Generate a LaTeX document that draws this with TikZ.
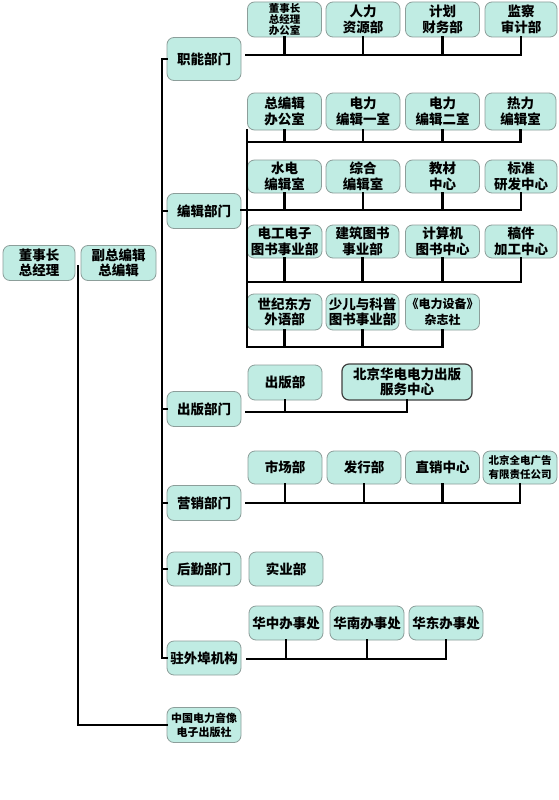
\documentclass[tikz,border=0pt]{standalone}
\usepackage{fontspec}
\newfontfamily\cjk{Noto Sans CJK SC}
\definecolor{boxfill}{RGB}{192,236,227}
\definecolor{boxline}{RGB}{140,158,154}
\begin{document}
\begin{tikzpicture}[x=1pt,y=-1pt,
  box/.style={draw=boxline, fill=boxfill, rounded corners=7pt, line width=0.8pt,
    align=center, inner sep=0pt, minimum width=74pt, minimum height=35pt,
    font=\cjk\bfseries\fontsize{13.5}{15.5}\selectfont},
  small/.style={font=\cjk\bfseries\fontsize{10.5}{11}\selectfont},
  tiny/.style={font=\cjk\bfseries\fontsize{11}{14}\selectfont},
  dark/.style={draw=black!75, line width=1.2pt},
  conn/.style={line width=2.6pt, line cap=rect}]
\useasboundingbox (0,0) rectangle (559,800);
\fill[white] (0,0) rectangle (559,800);
% level 0/1
\node[box, minimum width=72pt] (dsz) at (39,263) {董事长\\总经理};
\node[box, minimum width=75pt] (fzb) at (118.5,263) {副总编辑\\总编辑};
% departments
\node[box, minimum height=43pt] (zn) at (204,59) {职能部门};
\node[box] (bj) at (204,211) {编辑部门};
\node[box] (cb) at (204,409) {出版部门};
\node[box] (yx) at (204,503) {营销部门};
\node[box, minimum height=34pt] (hq) at (204,569) {后勤部门};
\node[box, minimum height=34pt] (zw) at (204,658) {驻外埠机构};
\node[box, tiny] (zg) at (204,725) {中国电力音像\\电子出版社};
% 职能 children
\node[box, small] (zn1) at (284.5,19.5) {董事长\\总经理\\办公室};
\node[box] (zn2) at (363,19.5) {人力\\资源部};
\node[box] (zn3) at (442.5,19.5) {计划\\财务部};
\node[box, minimum width=72pt] (zn4) at (521,19.5) {监察\\审计部};
% 编辑 rows
\node[box, minimum height=37pt] (b11) at (284.5,111.5) {总编辑\\办公室};
\node[box, minimum height=37pt] (b12) at (363,111.5) {电力\\编辑一室};
\node[box, minimum height=37pt] (b13) at (442.5,111.5) {电力\\编辑二室};
\node[box, minimum height=37pt, minimum width=71pt] (b14) at (520.5,111.5) {热力\\编辑室};
\node[box, minimum height=33pt] (b21) at (284.5,176.5) {水电\\编辑室};
\node[box, minimum height=33pt] (b22) at (363,176.5) {综合\\编辑室};
\node[box, minimum height=33pt] (b23) at (442.5,176.5) {教材\\中心};
\node[box, minimum height=33pt, minimum width=72pt] (b24) at (521,176.5) {标准\\研发中心};
\node[box, minimum height=33pt, minimum width=75pt] (b31) at (284.5,241.5) {电工电子\\图书事业部};
\node[box, minimum height=33pt, minimum width=73pt] (b32) at (362.5,241.5) {建筑图书\\事业部};
\node[box, minimum height=33pt] (b33) at (442.5,241.5) {计算机\\图书中心};
\node[box, minimum height=33pt, minimum width=72pt] (b34) at (521,241.5) {稿件\\加工中心};
\node[box, minimum width=75pt, minimum height=36pt] (b41) at (284.5,312) {世纪东方\\外语部};
\node[box, minimum width=73pt, minimum height=36pt] (b42) at (362.5,312) {少儿与科普\\图书事业部};
\node[box, minimum height=36pt, font=\cjk\bfseries\fontsize{12}{15.5}\selectfont] (b43) at (442.5,312) {《电力设备》\\杂志社};
% 出版 children
\node[box] (cb1) at (285,382.5) {出版部};
\node[box, dark, minimum width=130pt, minimum height=36pt] (cb2) at (407,382) {北京华电电力出版\\服务中心};
% 营销 children
\node[box, minimum height=33pt] (yx1) at (285,467.5) {市场部};
\node[box, minimum height=33pt] (yx2) at (364,467.5) {发行部};
\node[box, minimum height=33pt] (yx3) at (442.5,467.5) {直销中心};
\node[box, minimum height=33pt, font=\cjk\bfseries\fontsize{10.5}{14}\selectfont] (yx4) at (520,467.5) {北京全电广告\\有限责任公司};
% 后勤 child
\node[box, minimum height=34pt] (hq1) at (286,569) {实业部};
% 驻外埠 children
\node[box, minimum height=34pt] (zw1) at (286,623) {华中办事处};
\node[box, minimum height=34pt] (zw2) at (367,623) {华南办事处};
\node[box, minimum height=34pt] (zw3) at (446,623) {华东办事处};
% connector coordinates
\coordinate (mainx) at (162,0);
\coordinate (leftx) at (78,0);
\coordinate (bjx) at (247,0);
% main spine
\draw[conn] (zn.west -| mainx) -- (zw.west -| mainx);
\foreach \d in {zn,bj,cb,yx,hq,zw} \draw[conn] (\d.west -| mainx) -- (\d.west);
% left spine
\draw[conn] (78,266) -- (zg.west -| leftx) -- (zg.west);
% 职能
\draw[conn] (246,55) -- (zn4.south |- 0,55);
\foreach \c in {zn1,zn2,zn3,zn4} \draw[conn] (\c.south) -- (\c.south |- 0,55);
% 编辑
\draw[conn] (b11.south -| bjx) |- (b14.south |- 0,142);
\draw[conn] (bjx |- 0,142) -- (bjx |- 0,347) -- (b43.south |- 0,347);
\draw[conn] (bj.east |- 0,210) -- (b24.south |- 0,210);
\draw[conn] (bjx |- 0,282) -- (b34.south |- 0,282);
\foreach \c in {b11,b12,b13,b14} \draw[conn] (\c.south) -- (\c.south |- 0,142);
\foreach \c in {b21,b22,b23,b24} \draw[conn] (\c.south) -- (\c.south |- 0,210);
\foreach \c in {b31,b32,b33,b34} \draw[conn] (\c.south) -- (\c.south |- 0,282);
\foreach \c in {b41,b42,b43} \draw[conn] (\c.south) -- (\c.south |- 0,347);
% 出版
\draw[conn] (246,412) -- (cb2.south |- 0,412);
\foreach \c in {cb1,cb2} \draw[conn] (\c.south) -- (\c.south |- 0,412);
% 营销
\draw[conn] (246,503) -- (yx4.south |- 0,503);
\foreach \c in {yx1,yx2,yx3,yx4} \draw[conn] (\c.south) -- (\c.south |- 0,503);
% 驻外埠
\draw[conn] (247,659) -- (zw3.south |- 0,659);
\foreach \c in {zw1,zw2,zw3} \draw[conn] (\c.south) -- (\c.south |- 0,659);
\end{tikzpicture}
\end{document}
